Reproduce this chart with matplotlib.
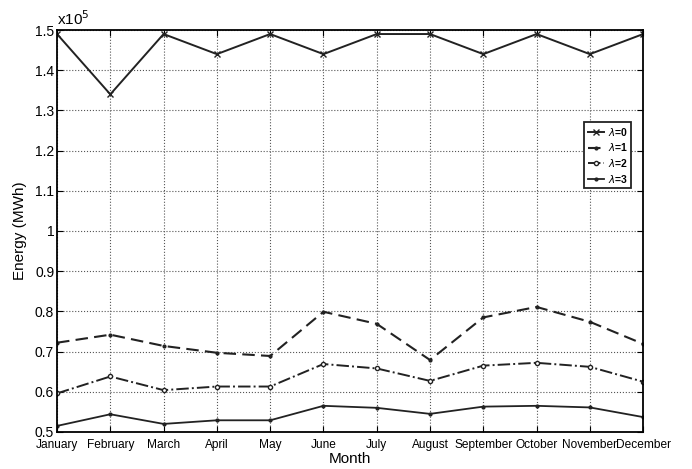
import matplotlib
matplotlib.use("Agg")
from matplotlib import pyplot as plt
import numpy as np

plt.rcParams['font.family'] = ['Liberation Sans', 'DejaVu Sans']

# Mois et énergie (x10^5 MWh)
MONTHS = ["January", "February", "March", "April", "May", "June", "July",
          "August", "September", "October", "November", "December"]
LAMBDA0 = [1.49, 1.34, 1.49, 1.44, 1.49, 1.44, 1.49, 1.49, 1.44, 1.49, 1.44, 1.49]
LAMBDA1 = [0.722, 0.742, 0.714, 0.697, 0.689, 0.799, 0.769, 0.679, 0.785, 0.811, 0.774, 0.719]
LAMBDA2 = [0.596, 0.638, 0.604, 0.613, 0.613, 0.669, 0.658, 0.627, 0.665, 0.672, 0.662, 0.625]
LAMBDA3 = [0.515, 0.544, 0.520, 0.529, 0.529, 0.565, 0.560, 0.545, 0.563, 0.565, 0.561, 0.537]

x = np.arange(len(MONTHS))

fig = plt.figure(figsize=(6.92, 4.69), dpi=100)
ax = fig.add_axes([0.0824, 0.079, 0.847, 0.857])

ax.plot(x, LAMBDA0, "-", color="#222222", lw=1.4, marker="x", ms=4, mew=1, label=r"$\lambda$=0")
ax.plot(x, LAMBDA1, "--", color="#222222", lw=1.5, dashes=(6, 3), marker=".", ms=4, label=r"$\lambda$=1")
ax.plot(x, LAMBDA2, "-.", color="#222222", lw=1.4, marker="o", ms=3, mfc="white", mew=1, label=r"$\lambda$=2")
ax.plot(x, LAMBDA3, "-", color="#222222", lw=1.3, marker=".", ms=4, label=r"$\lambda$=3")

ax.set_xlim(0, 11)
ax.set_ylim(0.5, 1.5)
ax.set_xticks(x)
ax.set_xticklabels(MONTHS, fontsize=8.6)
ax.set_yticks(np.arange(0.5, 1.51, 0.1))
ax.set_yticklabels(["0.5", "0.6", "0.7", "0.8", "0.9", "1", "1.1", "1.2", "1.3", "1.4", "1.5"], fontsize=10)
ax.tick_params(direction="in", top=True, right=True, length=4, pad=2)
ax.tick_params(axis="x", pad=5)
ax.grid(True, linestyle=":", color="#555555", lw=0.8)
for s in ax.spines.values():
    s.set_linewidth(1.3)

ax.set_xlabel("Month", fontsize=11, labelpad=1)
ax.set_ylabel("Energy (MWh)", fontsize=11, labelpad=6)
ax.text(0.0, 1.005, r"x10$^5$", transform=ax.transAxes, fontsize=11, ha="left", va="bottom")

leg = ax.legend(loc="upper right", bbox_to_anchor=(0.98, 0.771), prop={"size": 7.5, "weight": "bold"},
                fancybox=False, edgecolor="#222222", framealpha=1,
                handlelength=1.6, handletextpad=0.3, labelspacing=0.35, borderpad=0.35,
                borderaxespad=0)
leg.get_frame().set_linewidth(1.3)

fig.savefig("out.png", dpi=100)
